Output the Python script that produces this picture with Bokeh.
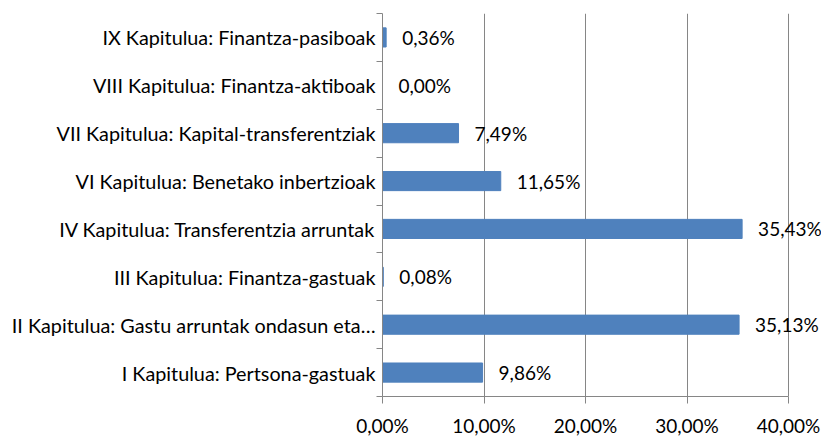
from bokeh.plotting import figure
from bokeh.models import Range1d, FixedTicker, ColumnDataSource, LabelSet
from bokeh.core.properties import value
from bokeh.embed import file_html
from bokeh.resources import INLINE

categories = [
    "I Kapitulua: Pertsona-gastuak",
    "II Kapitulua: Gastu arruntak ondasun eta…",
    "III Kapitulua: Finantza-gastuak",
    "IV Kapitulua: Transferentzia arruntak",
    "VI Kapitulua: Benetako inbertzioak",
    "VII Kapitulua: Kapital-transferentziak",
    "VIII Kapitulua: Finantza-aktiboak",
    "IX Kapitulua: Finantza-pasiboak",
]
values = [9.86, 35.13, 0.08, 35.43, 11.65, 7.49, 0.00, 0.36]
x_ticks = [0, 10, 20, 30, 40]
x_tick_labels = ["0,00%", "10,00%", "20,00%", "30,00%", "40,00%"]

FONT = "Lato"
FS_CAT = "19.8px"
FS_NUM = "19px"
BLUE = "#4F81BD"
GRAY = "#868686"

pos = [i + 0.5 for i in range(len(categories))]
labels = [("%.2f%%" % v).replace(".", ",") for v in values]
src = ColumnDataSource(dict(y=pos, v=values, lab=labels))

p = figure(width=821, height=439, output_backend="svg", toolbar_location=None,
           x_range=Range1d(0, 43.25), y_range=Range1d(0, len(categories)),
           min_border_left=382, min_border_right=0, min_border_top=13, min_border_bottom=37)
p.outline_line_color = None
p.background_fill_color = "white"

p.hbar(y="y", right="v", left=0, height=0.4, source=src, fill_color=BLUE, line_color=BLUE)

p.add_layout(LabelSet(x="v", y="y", text="lab", source=src, x_offset=16, y_offset=0,
                      text_align="left", text_baseline="middle",
                      text_font=value(FONT), text_font_size=value(FS_NUM), text_color="black"))

# x axis
xa = p.xaxis[0]
xa.bounds = (0, 40)
xa.ticker = FixedTicker(ticks=x_ticks, minor_ticks=[])
xa.major_label_overrides = {t: l for t, l in zip(x_ticks, x_tick_labels)}
xa.axis_line_color = GRAY
xa.major_tick_line_color = GRAY
xa.major_tick_out = 7
xa.major_tick_in = 0
xa.minor_tick_line_color = None
xa.major_label_standoff = 10
xa.major_label_text_font = FONT
xa.major_label_text_font_size = FS_NUM
xa.major_label_text_color = "black"

# y axis
ya = p.yaxis[0]
ya.ticker = FixedTicker(ticks=pos, minor_ticks=list(range(len(categories) + 1)))
ya.major_label_overrides = {t: c for t, c in zip(pos, categories)}
ya.axis_line_color = GRAY
ya.major_tick_line_color = None
ya.major_tick_out = 0
ya.major_tick_in = 0
ya.minor_tick_line_color = GRAY
ya.minor_tick_out = 6
ya.minor_tick_in = 0
ya.major_label_standoff = 1
ya.major_label_text_font = FONT
ya.major_label_text_font_size = FS_CAT
ya.major_label_text_color = "black"

p.xgrid.grid_line_color = GRAY
p.xgrid.ticker = FixedTicker(ticks=x_ticks[1:])
p.ygrid.grid_line_color = None

open("out.html", "w").write(file_html(p, INLINE))
